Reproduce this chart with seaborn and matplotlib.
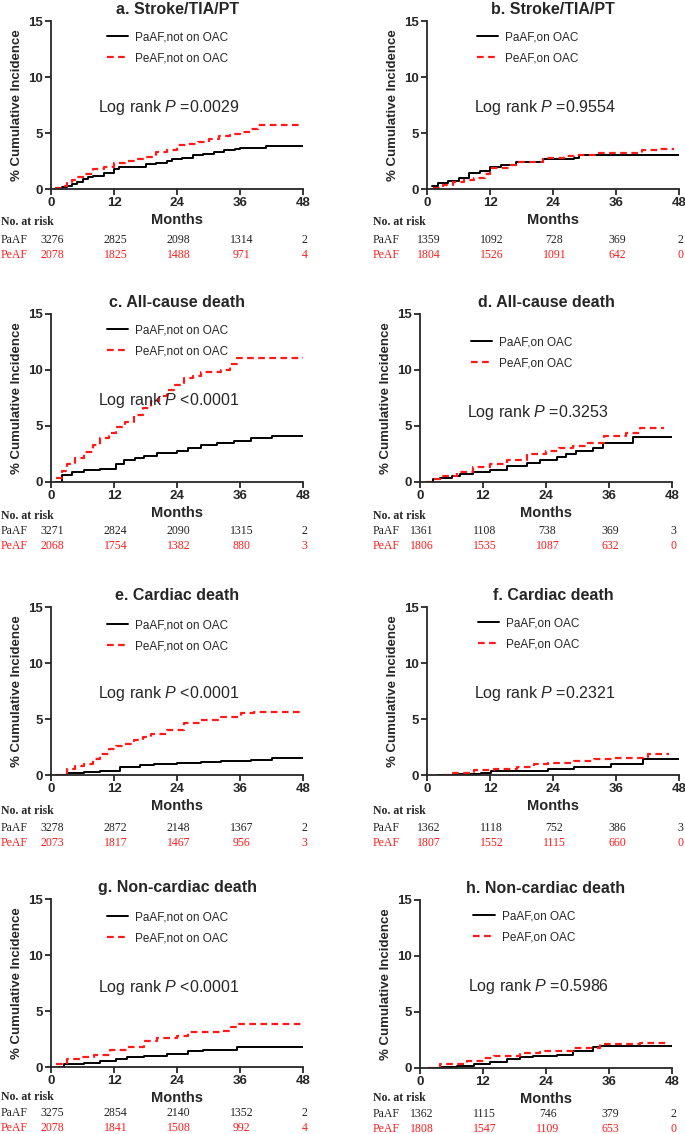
import matplotlib
matplotlib.use("Agg")
import matplotlib.pyplot as plt
import seaborn as sns
import pandas as pd

# panel titles / legend labels / log rank values
titles = ['a. Stroke/TIA/PT', 'b. Stroke/TIA/PT', 'c. All-cause death', 'd. All-cause death',
          'e. Cardiac death', 'f. Cardiac death', 'g. Non-cardiac death', 'h. Non-cardiac death']
pvals = ['=0.0029', '=0.9554', '<0.0001', '=0.3253', '<0.0001', '=0.2321', '<0.0001', '=0.5986']
labels_noac = ['PaAF,not on OAC', 'PeAF,not on OAC']
labels_oac = ['PaAF,on OAC', 'PeAF,on OAC']
months = [0, 12, 24, 36, 48]

# KM curves (months, % cumulative incidence)
a_paaf_t = [0.8, 2, 3, 4, 5, 6, 7, 8, 10, 12, 13, 16, 18, 20, 22, 23, 25, 27, 29, 31, 33, 35, 36, 41, 48]
a_paaf_y = [0, 0.15, 0.3, 0.45, 0.6, 0.9, 1.1, 1.2, 1.45, 1.8, 1.95, 2.0, 2.2, 2.35, 2.5, 2.7, 2.8, 3.0, 3.15, 3.3, 3.45, 3.6, 3.65, 3.8, 3.8]
a_peaf_t = [0.8, 2, 3, 4, 5, 6, 8, 10, 12, 14, 16, 18, 20, 22, 24, 26, 28, 30, 32, 34, 36, 38, 39.5, 48]
a_peaf_y = [0.1, 0.3, 0.5, 0.8, 1.1, 1.35, 1.75, 2.0, 2.3, 2.5, 2.7, 2.9, 3.3, 3.5, 3.9, 4.0, 4.2, 4.45, 4.7, 4.9, 5.1, 5.4, 5.75, 5.75]

b_paaf_t = [0.9, 2, 4, 6, 8, 10, 12, 14, 17, 22, 28, 29, 48]
b_paaf_y = [0.3, 0.5, 0.75, 0.95, 1.4, 1.6, 1.95, 2.1, 2.4, 2.65, 2.8, 3.0, 3.0]
b_peaf_t = [1.2, 3, 5, 7, 9, 11, 12, 16, 17, 22, 26, 28, 32, 41, 44, 47]
b_peaf_y = [0.1, 0.4, 0.6, 0.8, 1.0, 1.3, 1.9, 2.1, 2.4, 2.8, 2.95, 3.0, 3.25, 3.5, 3.6, 3.6]

c_paaf_t = [1, 2.1, 4, 6.2, 9.4, 12.3, 13.9, 16, 17.7, 20.2, 24, 26, 28.5, 31.7, 34.8, 38, 42.1, 48]
c_paaf_y = [0, 0.6, 0.85, 1.05, 1.2, 1.65, 1.95, 2.1, 2.3, 2.55, 2.8, 3.0, 3.3, 3.45, 3.7, 3.9, 4.1, 4.1]
c_peaf_t = [1, 2, 3, 4.5, 6.2, 8, 9.4, 11, 12.3, 14, 15.8, 17.5, 19, 20.5, 22, 23.5, 25.3, 27, 28.5, 32.3, 34, 35.5, 48]
c_peaf_y = [0.4, 1.0, 1.65, 2.1, 2.7, 3.3, 3.9, 4.4, 4.9, 5.4, 6.0, 6.6, 7.2, 7.7, 8.2, 8.7, 9.25, 9.5, 9.85, 10.0, 10.5, 11.1, 11.2]

d_paaf_t = [1.5, 2.5, 3.8, 6, 7.6, 10, 13.3, 16.5, 20.3, 22.8, 26, 27.9, 29.8, 33, 34.9, 40.6, 48]
d_paaf_y = [0, 0.25, 0.4, 0.55, 0.7, 0.85, 1.1, 1.4, 1.7, 2.0, 2.2, 2.5, 2.8, 3.05, 3.5, 4.05, 4.05]
d_peaf_t = [1.2, 2.5, 3.8, 7, 10.1, 13.3, 16.5, 20.3, 24, 26.5, 29.2, 32, 35, 39.3, 41.9, 46.5]
d_peaf_y = [0, 0.3, 0.55, 0.85, 1.3, 1.6, 2.0, 2.5, 2.75, 3.0, 3.2, 3.5, 4.1, 4.4, 4.85, 4.85]

e_paaf_t = [1, 3, 6.2, 9.4, 13.2, 17, 19.6, 24, 28.5, 32.3, 38, 42.1, 48]
e_paaf_y = [0, 0.15, 0.3, 0.4, 0.7, 0.85, 1.0, 1.05, 1.15, 1.25, 1.35, 1.5, 1.5]
e_peaf_t = [1, 3, 4.5, 6.2, 8, 9.4, 11, 12.3, 14, 15.8, 17.5, 19, 22, 25.3, 28.5, 32.3, 36.1, 38.6, 48]
e_peaf_y = [0, 0.55, 0.8, 1.0, 1.45, 1.9, 2.3, 2.55, 2.8, 3.1, 3.4, 3.7, 4.05, 4.6, 4.95, 5.2, 5.5, 5.65, 5.65]

f_paaf_t = [2, 5.7, 10.2, 12.1, 23, 28, 35, 41.1, 48]
f_paaf_y = [0, 0.06, 0.2, 0.35, 0.55, 0.75, 0.95, 1.45, 1.45]
f_peaf_t = [3, 4.5, 9, 12.7, 17.2, 20.4, 23, 28, 31.9, 35.7, 42, 46]
f_peaf_y = [0, 0.15, 0.45, 0.5, 0.75, 0.95, 1.05, 1.25, 1.4, 1.5, 1.85, 1.85]

g_paaf_t = [1.5, 2.4, 6.2, 9.4, 12.3, 14.5, 17.7, 22, 26, 29, 35.5, 38.6, 48]
g_paaf_y = [0, 0.25, 0.4, 0.5, 0.7, 0.87, 1.0, 1.15, 1.4, 1.53, 1.75, 1.8, 1.8]
g_peaf_t = [1, 3, 5.5, 8.1, 11.3, 14.5, 17.7, 20.2, 24, 26, 32.3, 34.2, 35.5, 48]
g_peaf_y = [0.25, 0.7, 0.85, 1.1, 1.5, 1.75, 2.35, 2.55, 2.8, 3.1, 3.2, 3.6, 3.8, 3.8]

h_paaf_t = [2, 3.8, 7, 10.2, 13.3, 16.5, 19.1, 21.6, 26, 29.2, 33, 34.3, 48]
h_paaf_y = [0, 0.1, 0.2, 0.35, 0.55, 0.8, 0.95, 1.1, 1.2, 1.55, 1.85, 2.0, 2.0]
h_peaf_t = [1.5, 3.8, 8.9, 12.1, 14, 19.1, 22.9, 29.2, 34.3, 41.9, 47]
h_peaf_y = [0, 0.35, 0.6, 0.85, 1.05, 1.35, 1.55, 1.8, 2.15, 2.2, 2.2]

# number at risk
a_paaf_risk = [3276, 2825, 2098, 1314, 2]
a_peaf_risk = [2078, 1825, 1488, 971, 4]
b_paaf_risk = [1359, 1092, 728, 369, 2]
b_peaf_risk = [1804, 1526, 1091, 642, 0]
c_paaf_risk = [3271, 2824, 2090, 1315, 2]
c_peaf_risk = [2068, 1754, 1382, 880, 3]
d_paaf_risk = [1361, 1108, 738, 369, 3]
d_peaf_risk = [1806, 1535, 1087, 632, 0]
e_paaf_risk = [3278, 2872, 2148, 1367, 2]
e_peaf_risk = [2073, 1817, 1467, 956, 3]
f_paaf_risk = [1362, 1118, 752, 386, 3]
f_peaf_risk = [1807, 1552, 1115, 660, 0]
g_paaf_risk = [3275, 2854, 2140, 1352, 2]
g_peaf_risk = [2078, 1841, 1508, 992, 4]
h_paaf_risk = [1362, 1115, 746, 379, 2]
h_peaf_risk = [1808, 1547, 1109, 653, 0]

curves = [
    (a_paaf_t, a_paaf_y, a_peaf_t, a_peaf_y, a_paaf_risk, a_peaf_risk),
    (b_paaf_t, b_paaf_y, b_peaf_t, b_peaf_y, b_paaf_risk, b_peaf_risk),
    (c_paaf_t, c_paaf_y, c_peaf_t, c_peaf_y, c_paaf_risk, c_peaf_risk),
    (d_paaf_t, d_paaf_y, d_peaf_t, d_peaf_y, d_paaf_risk, d_peaf_risk),
    (e_paaf_t, e_paaf_y, e_peaf_t, e_peaf_y, e_paaf_risk, e_peaf_risk),
    (f_paaf_t, f_paaf_y, f_peaf_t, f_peaf_y, f_paaf_risk, f_peaf_risk),
    (g_paaf_t, g_paaf_y, g_peaf_t, g_peaf_y, g_paaf_risk, g_peaf_risk),
    (h_paaf_t, h_paaf_y, h_peaf_t, h_peaf_y, h_paaf_risk, h_peaf_risk),
]

sns.set_style("ticks")
plt.rcParams['font.family'] = ['Liberation Sans', 'DejaVu Sans']
plt.rcParams['mathtext.fontset'] = 'custom'
plt.rcParams['mathtext.rm'] = 'Liberation Sans'
plt.rcParams['mathtext.it'] = 'Liberation Sans:italic'

RED = '#ff1a1a'
W, H = 685, 1134
AH = 168
fig = plt.figure(figsize=(W / 100, H / 100), dpi=100)

# axes placement in pixels (left, top)
lefts = [51, 427, 51, 420, 51, 427, 51, 420]
tops = [21, 21, 314, 314, 607, 607, 899, 900]
logrank_y = [7.3, 7.3, 7.3, 6.2, 7.3, 7.3, 7.1, 7.3]
legend_x = [0.18, 0.155, 0.18, 0.16, 0.18, 0.16, 0.18, 0.17]
legend_y = [1.0, 1.0, 1.0, 0.93, 0.99, 1.0, 0.99, 1.0]
# risk table rows: pixel offsets below the x axis, per figure row
table_rows = [(33, 51, 66), (34, 49, 64), (36, 53, 68), (30, 46, 61)]

for i, (pt, py, et, ey, prisk, erisk) in enumerate(curves):
    left, top = lefts[i], tops[i]
    ax = fig.add_axes([left / W, 1 - (top + AH) / H, 252 / W, AH / H])
    labs = labels_noac if i % 2 == 0 else labels_oac

    df_pa = pd.DataFrame({'t': pt, 'y': py})
    df_pe = pd.DataFrame({'t': et, 'y': ey})
    sns.lineplot(data=df_pa, x='t', y='y', ax=ax, color='black', lw=1.4,
                 drawstyle='steps-post', estimator=None, label=labs[0])
    sns.lineplot(data=df_pe, x='t', y='y', ax=ax, color=RED, lw=1.6,
                 drawstyle='steps-post', estimator=None, label=labs[1],
                 linestyle=(0, (3, 2)))

    ax.set_xlim(0, 48)
    ax.set_ylim(0, 15)
    ax.set_xticks(months)
    ax.set_yticks([0, 5, 10, 15])
    sns.despine(ax=ax)
    for s in ['left', 'bottom']:
        ax.spines[s].set_linewidth(1.3)
    ax.tick_params(width=1.3, length=4, labelsize=9.5, pad=1.5)
    for lab in ax.get_xticklabels() + ax.get_yticklabels():
        lab.set_fontweight('bold')

    ax.set_title(titles[i], fontsize=11.5, fontweight='bold', pad=5)
    ax.set_xlabel('Months', fontsize=10.5, fontweight='bold', labelpad=3)
    ax.set_ylabel('% Cumulative Incidence', fontsize=9.5, fontweight='bold', labelpad=4)

    ax.legend(loc='upper left', bbox_to_anchor=(legend_x[i], legend_y[i]), frameon=False,
              fontsize=8.5, handlelength=1.8, handletextpad=0.6, labelspacing=0.75)

    ax.text(22.5, logrank_y[i], 'Log rank $P$ ' + pvals[i], fontsize=11.5,
            ha='center', va='center')

    # number at risk table
    tr = ax.get_xaxis_transform()
    label_px = 1 if i % 2 == 0 else 373
    xl = (label_px - left) / 252 * 48
    r0, r1, r2 = [-v / AH for v in table_rows[i // 2]]
    ax.text(xl, r0, 'No. at risk', transform=tr, fontsize=8.5, fontweight='bold',
            family='Liberation Serif', ha='left', va='center', clip_on=False)
    ax.text(xl, r1, 'PaAF', transform=tr, fontsize=8.5, family='Liberation Serif',
            ha='left', va='center', color='#222222', clip_on=False)
    ax.text(xl, r2, 'PeAF', transform=tr, fontsize=8.5, family='Liberation Serif',
            ha='left', va='center', color=RED, clip_on=False)
    for m, n1, n2 in zip(months, prisk, erisk):
        ax.text(m + 0.3, r1, str(n1), transform=tr, fontsize=8.5, family='Liberation Serif',
                ha='center', va='center', color='#222222', clip_on=False)
        ax.text(m + 0.3, r2, str(n2), transform=tr, fontsize=8.5, family='Liberation Serif',
                ha='center', va='center', color=RED, clip_on=False)

fig.savefig('out.png', dpi=100)
